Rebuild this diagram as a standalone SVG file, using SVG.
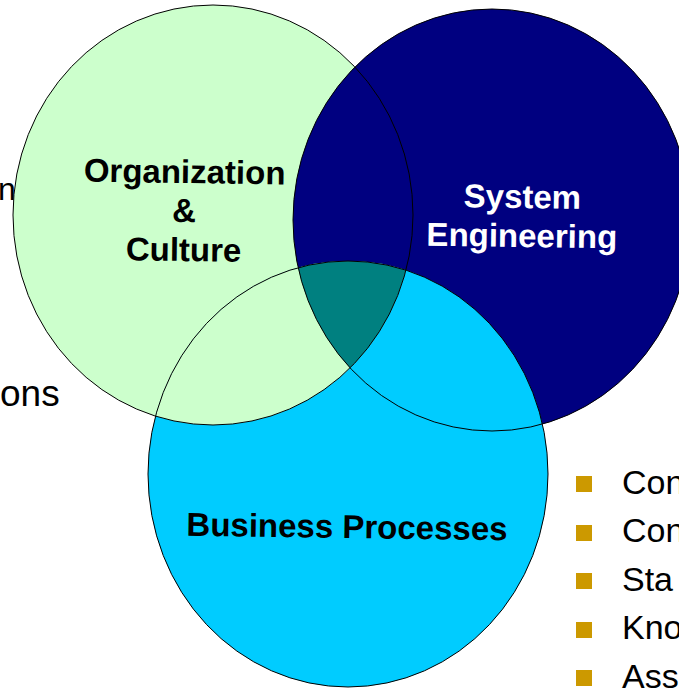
<svg xmlns="http://www.w3.org/2000/svg" width="679" height="688" viewBox="0 0 679 688">
  <style>
    .lbl { font-family: "Liberation Sans", Arial, sans-serif; font-weight: bold; font-size: 33px; text-anchor: middle; }
    .side { font-family: "Liberation Sans", Arial, sans-serif; font-size: 37px; fill: #000; }
    .bul { font-family: "Liberation Sans", Arial, sans-serif; font-size: 34px; fill: #000; }
    .sq { fill: #CC9900; }
    .ol { fill: none; stroke: #000; stroke-width: 1; }
  </style>
  <defs>
    <clipPath id="clipCyan"><ellipse cx="348" cy="474" rx="200" ry="213"/></clipPath>
    <clipPath id="clipNavy"><ellipse cx="492" cy="220" rx="199" ry="211"/></clipPath>
  </defs>
  <rect width="679" height="688" fill="#fff"/>

  <g id="side-text">
    <text class="side" x="-2" y="200" style="font-size:32px">n</text>
    <text class="side" x="0" y="406">ons</text>
    <rect class="sq" x="576" y="476" width="16" height="16"/>
    <text class="bul" x="622" y="494">Con</text>
    <rect class="sq" x="576" y="525" width="16" height="16"/>
    <text class="bul" x="622" y="542">Con</text>
    <rect class="sq" x="576" y="573" width="16" height="16"/>
    <text class="bul" x="622" y="591">Sta</text>
    <rect class="sq" x="576" y="622" width="16" height="16"/>
    <text class="bul" x="622" y="639">Kno</text>
    <rect class="sq" x="576" y="670" width="16" height="16"/>
    <text class="bul" x="622" y="688">Ass</text>
  </g>

  <g id="org-culture">
    <ellipse cx="213" cy="215" rx="200" ry="210" fill="#CCFFCC"/>
    <g transform="rotate(0.8 183 220)">
      <text class="lbl" x="184" y="183" fill="#000">Organization</text>
      <text class="lbl" x="184" y="222" fill="#000">&amp;</text>
      <text class="lbl" x="184" y="261" fill="#000">Culture</text>
    </g>
  </g>

  <g id="system-engineering">
    <ellipse cx="492" cy="220" rx="199" ry="211" fill="#000080"/>
    <g transform="rotate(0.8 522 226)">
      <text class="lbl" x="522" y="208" fill="#fff">System</text>
      <text class="lbl" x="522" y="247" fill="#fff">Engineering</text>
    </g>
  </g>

  <g id="business-processes">
    <ellipse cx="348" cy="474" rx="200" ry="213" fill="#00CCFF"/>
    <text class="lbl" x="347" y="538" fill="#000" transform="rotate(0.8 347 528)">Business Processes</text>
  </g>

  <g id="overlaps">
    <ellipse cx="213" cy="215" rx="200" ry="210" fill="#CCFFCC" clip-path="url(#clipCyan)"/>
    <g clip-path="url(#clipCyan)">
      <ellipse cx="213" cy="215" rx="200" ry="210" fill="#008080" clip-path="url(#clipNavy)"/>
    </g>
  </g>

  <g id="outlines">
    <ellipse class="ol" cx="213" cy="215" rx="200" ry="210"/>
    <ellipse class="ol" cx="492" cy="220" rx="199" ry="211"/>
    <ellipse class="ol" cx="348" cy="474" rx="200" ry="213"/>
  </g>
</svg>
